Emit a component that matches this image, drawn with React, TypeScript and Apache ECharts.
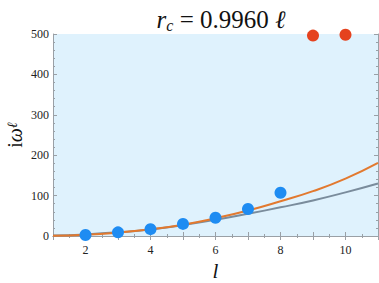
import React, { useEffect, useRef } from "react";
import * as echarts from "echarts";

const blueL = [2, 3, 4, 5, 6, 7, 8];
const blueV = [2.5, 9, 17, 30, 45, 67, 107];
const redL = [9, 10];
const redV = [496, 498];
const curveL = [1, 2, 3, 4, 5, 6, 7, 8, 9, 10, 11];
const orangeV = [0.5, 3, 8.5, 16.5, 28, 44, 63, 86, 111, 142, 181];
const grayV = [1, 4, 9, 16, 27, 40, 55, 71, 88, 108, 130];
const yTicks = [0, 100, 200, 300, 400, 500];
const xLabels = [2, 4, 6, 8, 10];

const serif = "Liberation Serif";
const axisGray = "#9aa0a6";

export default function App() {
  const ref = useRef<HTMLDivElement>(null);
  useEffect(() => {
    const chart = echarts.init(ref.current!, null, { renderer: "svg" });
    const tickCommon = {
      axisLine: { show: true, lineStyle: { color: axisGray, width: 1 } },
      axisTick: { show: true, inside: true, length: 4, lineStyle: { color: axisGray } },
      splitLine: { show: false },
    };
    chart.setOption({
      animation: false,
      backgroundColor: "#ffffff",
      title: {
        text: "{i|r}{s|c}{n| = 0.9960 }{i|ℓ}",
        left: 216,
        textAlign: "center",
        top: 0,
        textStyle: {
          rich: {
            i: { fontFamily: serif, fontStyle: "italic", fontWeight: "normal", fontSize: 25, color: "#111" },
            s: { fontFamily: serif, fontStyle: "italic", fontWeight: "normal", fontSize: 16, color: "#111", verticalAlign: "bottom", padding: [12, 0, 0, 0] },
            n: { fontFamily: serif, fontWeight: "normal", fontSize: 25, color: "#111" },
          },
        },
      },
      grid: {
        left: 53,
        right: 1,
        top: 34,
        bottom: 47,
        show: true,
        backgroundColor: "#dff2fd",
        borderWidth: 0,
        containLabel: false,
        outerBoundsMode: "none",
      },
      xAxis: [
        {
          type: "value",
          min: 1,
          max: 11,
          interval: 1,
          position: "bottom",
          ...tickCommon,
          minorTick: { show: true, splitNumber: 2, length: 2, lineStyle: { color: axisGray } },
          axisLabel: {
            fontFamily: serif,
            fontSize: 12,
            color: "#222",
            margin: 8,
            formatter: (v: number) => (xLabels.includes(v) ? String(v) : ""),
          },
          name: "l",
          nameLocation: "middle",
          nameGap: 24,
          nameTextStyle: { fontFamily: serif, fontStyle: "italic", fontSize: 21, color: "#111" },
        },
        {
          type: "value",
          min: 1,
          max: 11,
          interval: 1,
          position: "top",
          ...tickCommon,
          minorTick: { show: true, splitNumber: 2, length: 2, lineStyle: { color: axisGray } },
          axisLabel: { show: false },
        },
      ],
      yAxis: [
        {
          type: "value",
          min: 0,
          max: 500,
          interval: 100,
          position: "left",
          ...tickCommon,
          minorTick: { show: true, splitNumber: 5, length: 2, lineStyle: { color: axisGray } },
          axisLabel: {
            fontFamily: serif,
            fontSize: 12,
            color: "#222",
            margin: 4,
            formatter: (v: number) => (yTicks.includes(v) ? String(v) : ""),
          },
          name: "{n|i}{w|ω}{s|ℓ}",
          nameLocation: "middle",
          nameRotate: 90,
          nameGap: 28,
          nameMoveOverlap: false,
          nameTextStyle: {
            rich: {
              n: { fontFamily: serif, fontSize: 20, color: "#111" },
              w: { fontFamily: serif, fontStyle: "italic", fontSize: 20, color: "#111" },
              s: { fontFamily: serif, fontStyle: "italic", fontSize: 14, color: "#111", verticalAlign: "top", padding: [0, 0, 6, 0] },
            },
          },
        },
        {
          type: "value",
          min: 0,
          max: 500,
          interval: 100,
          position: "right",
          ...tickCommon,
          minorTick: { show: true, splitNumber: 5, length: 2, lineStyle: { color: axisGray } },
          axisLabel: { show: false },
        },
      ],
      series: [
        {
          type: "line",
          data: curveL.map((l, i) => [l, grayV[i]]),
          smooth: true,
          showSymbol: false,
          lineStyle: { color: "#7a8c9c", width: 2 },
          z: 2,
        },
        {
          type: "line",
          data: curveL.map((l, i) => [l, orangeV[i]]),
          smooth: true,
          showSymbol: false,
          lineStyle: { color: "#e2792f", width: 2 },
          z: 3,
        },
        {
          type: "scatter",
          data: blueL.map((l, i) => [l, blueV[i]]),
          symbolSize: 12,
          itemStyle: { color: "#1e8cf2", opacity: 1 },
          z: 4,
        },
        {
          type: "scatter",
          data: redL.map((l, i) => [l, redV[i]]),
          symbolSize: 12,
          clip: false,
          itemStyle: { color: "#e5421e", opacity: 1 },
          z: 4,
        },
      ],
    });
    return () => chart.dispose();
  }, []);
  return <div ref={ref} style={{ width: 379, height: 283, position: "absolute", left: 0, top: 0 }} />;
}
